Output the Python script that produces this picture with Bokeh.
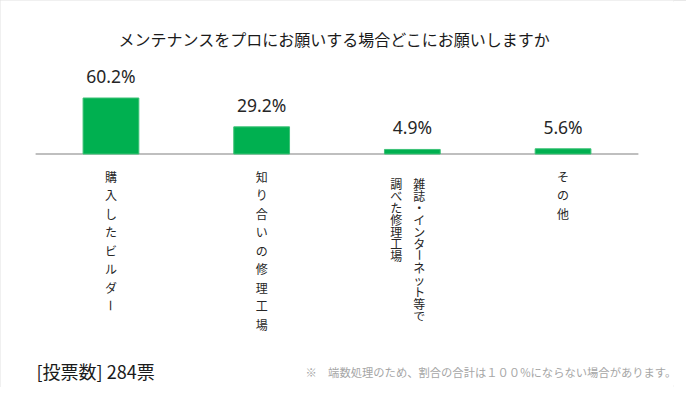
import math
from bokeh.plotting import figure
from bokeh.models import ColumnDataSource, LabelSet, Label, FactorRange, Range1d
from bokeh.transform import dodge
from bokeh.core.properties import value
from bokeh.embed import file_html
from bokeh.resources import INLINE

# ---- data ----
title_text = "メンテナンスをプロにお願いする場合どこにお願いしますか"
categories = ["購入したビルダー", "知り合いの修理工場", "雑誌・インターネット等で調べた修理工場", "その他"]
label_columns = [["購入したビルダー"], ["知り合いの修理工場"],
                 ["雑誌・インターネット等で", "調べた修理工場"], ["その他"]]
values = [60.2, 29.2, 4.9, 5.6]
value_labels = ["60.2%", "29.2%", "4.9%", "5.6%"]
votes_text = "[投票数] 284票"
note_text = "※　端数処理のため、割合の合計は１００%にならない場合があります。"

JP = "Noto Sans CJK JP"
W, H = 686, 387
BASE_Y = 153.5      # baseline position from top (px)
PX_PER_UNIT = 0.93  # px per percent

p = figure(x_range=FactorRange(*categories, range_padding=0.233, range_padding_units="absolute"),
           y_range=Range1d(-(H - BASE_Y) / PX_PER_UNIT, BASE_Y / PX_PER_UNIT),
           width=W, height=H, output_backend="svg", toolbar_location=None,
           x_axis_location=None, y_axis_location=None,
           min_border_left=0, min_border_right=13, min_border_top=0, min_border_bottom=0)
p.styles = {"outline": "2px solid #e0e0e0", "outline-offset": "-2px"}
p.outline_line_color = None
p.xgrid.visible = False
p.ygrid.visible = False
p.background_fill_color = "white"
p.border_fill_color = "white"

# axis line spanning all categories
ends = ColumnDataSource(dict(c0=[categories[0]], c1=[categories[-1]], y=[0]))
p.segment(x0=dodge("c0", -0.5, range=p.x_range), x1=dodge("c1", 0.5, range=p.x_range),
          y0="y", y1="y", source=ends, line_color="#bfbfbf", line_width=2)

src = ColumnDataSource(dict(cat=categories, val=values, lbl=value_labels))
p.vbar(x="cat", top="val", bottom=0, width=0.37, source=src,
       fill_color="#00b050", line_color="#3cc276", line_width=1)

p.add_layout(LabelSet(x="cat", y="val", text="lbl", source=src, y_offset=22,
                      text_align="center", text_baseline="middle",
                      text_font=value("Noto Sans"), text_font_size="17.5px",
                      text_color="#262626"))

# vertical category labels, one character per label
cx, cxo, cyo, ct, ca = [], [], [], [], []
for cat, cols in zip(categories, label_columns):
    multi = len(cols) > 1
    step = 12 if multi else 18.5
    start = 29 if multi else 22
    for j, col in enumerate(cols):
        xo = (7 - 23 * j) if multi else 0
        for i, ch in enumerate(col):
            cx.append(cat)
            cxo.append(xo)
            cyo.append(-(start + i * step))
            ct.append(ch)
            ca.append(math.pi / 2 if ch == "ー" else 0)
csrc = ColumnDataSource(dict(cat=cx, xo=cxo, yo=cyo, ch=ct, ang=ca, y=[0] * len(cx)))
p.add_layout(LabelSet(x="cat", y="y", text="ch", x_offset="xo", y_offset="yo", angle="ang",
                      source=csrc, text_align="center", text_baseline="middle",
                      text_font=value(JP), text_font_size="12px", text_color="#262626"))

p.add_layout(Label(x=334, y=H - 38, x_units="screen", y_units="screen", text=title_text,
                   text_align="center", text_baseline="middle",
                   text_font=JP, text_font_size="16px", text_color="#1a1a1a"))
p.add_layout(Label(x=36, y=H - 370, x_units="screen", y_units="screen", text=votes_text,
                   text_align="left", text_baseline="middle",
                   text_font=JP, text_font_size="18px", text_color="#1a1a1a"))
p.add_layout(Label(x=305, y=H - 371, x_units="screen", y_units="screen", text=note_text,
                   text_align="left", text_baseline="middle",
                   text_font=JP, text_font_size="11.3px", text_color="#a6a6a6"))

open("out.html", "w").write(file_html(p, INLINE))
